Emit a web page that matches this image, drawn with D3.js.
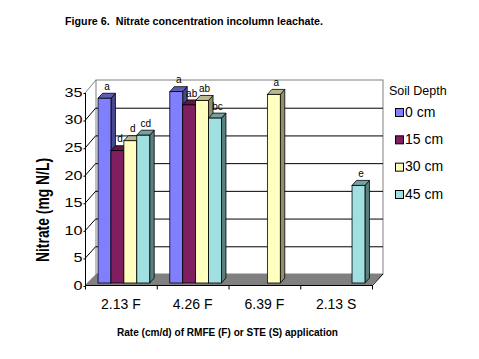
<!DOCTYPE html>
<html>
<head>
<meta charset="utf-8">
<script src="https://cdn.jsdelivr.net/npm/d3@7"></script>
<style>
  html, body { margin: 0; padding: 0; background: #fff; }
  svg { display: block; }
  text { font-family: "Liberation Sans", Arial, sans-serif; fill: #000; }
</style>
</head>
<body>
<svg id="chart" width="479" height="359"></svg>
<script>
// ---- data ----
const categories = ["2.13 F", "4.26 F", "6.39 F", "2.13 S"];
const depthNames = ["0 cm", "15 cm", "30 cm", "45 cm"];
const depth0  = [33.5, 34.7, null, null];
const depth15 = [24.0, 32.3, null, null];
const depth30 = [25.8, 33.1, 34.2, null];
const depth45 = [26.8, 29.9, null, 17.7];
const letters0  = ["a", "a", null, null];
const letters15 = ["d", "ab", null, null];
const letters30 = ["d", "ab", "a", null];
const letters45 = ["cd", "bc", null, "e"];
const yTicks = [0, 5, 10, 15, 20, 25, 30, 35];
const titleText = "Figure 6.  Nitrate concentration incolumn leachate.";
const xTitleText = "Rate (cm/d) of RMFE (F) or STE (S) application";
const yTitleText = "Nitrate (mg N/L)";
const legendTitle = "Soil Depth";

const seriesValues = [depth0, depth15, depth30, depth45];
const seriesLetters = [letters0, letters15, letters30, letters45];
const colors = ["#8080FF", "#801F5F", "#FFFFC0", "#A0E0E0"];

// ---- geometry ----
const svg = d3.select("#chart");
const frontLeft = 85, frontRight = 372;
const depthDx = 11, depthDy = -12;
const yFront = d3.scaleLinear().domain([0, 35]).range([286, 93]);
const yBack  = d3.scaleLinear().domain([0, 35]).range([274, 80]);
const yBar   = d3.scaleLinear().domain([0, 35]).range([283, 90]);
const barShift = 3;           // x shift of the bar plane
const barDx = 4.5, barDy = -5; // bar depth

const x0 = d3.scaleBand().domain(categories).range([frontLeft, frontRight])
  .paddingInner(0.28).paddingOuter(0.14);
const x1 = d3.scaleBand().domain(d3.range(depthNames.length)).range([0, x0.bandwidth()]);
const xEdge = d3.scaleBand().domain(categories).range([frontLeft, frontRight]);

// ---- back wall ----
const backL = frontLeft + depthDx, backR = frontRight + depthDx;
svg.append("rect")
  .attr("x", backL).attr("y", yBack(35))
  .attr("width", backR - backL).attr("height", yBack(0) - yBack(35))
  .attr("fill", "#fff").attr("stroke", "#808080").attr("stroke-width", 1);

// gridlines on back wall
svg.append("g").selectAll("line").data(yTicks.filter(t => t > 0 && t < 35)).join("line")
  .attr("x1", backL).attr("x2", backR)
  .attr("y1", d => yBack(d) + 0.5).attr("y2", d => yBack(d) + 0.5)
  .attr("stroke", "#000").attr("stroke-width", 1);

// slanted side lines
svg.append("g").selectAll("line").data(yTicks.filter(t => t > 0)).join("line")
  .attr("x1", frontLeft).attr("y1", d => yFront(d))
  .attr("x2", backL).attr("y2", d => yBack(d))
  .attr("stroke", d => d === 35 ? "#808080" : "#000").attr("stroke-width", 1);

// ---- floor ----
svg.append("polygon")
  .attr("points", [[frontLeft, yFront(0) - 1], [frontRight, yFront(0) - 1],
                   [backR, yBack(0)], [backL, yBack(0)]].map(p => p.join(",")).join(" "))
  .attr("fill", "#808080");
svg.append("line")
  .attr("x1", frontRight).attr("y1", yFront(0)).attr("x2", backR).attr("y2", yBack(0))
  .attr("stroke", "#000");

// ---- bars ----
const barsG = svg.append("g");
categories.forEach((cat, ci) => {
  seriesValues.forEach((vals, si) => {
    const v = vals[ci];
    if (v == null) return;
    const xl = x0(cat) + x1(si) + barShift;
    const w = x1.bandwidth();
    const yt = yBar(v), yb = yBar(0);
    const base = d3.color(colors[si]);
    const g = barsG.append("g");
    g.append("polygon") // side
      .attr("points", [[xl + w, yb], [xl + w + barDx, yb + barDy], [xl + w + barDx, yt + barDy], [xl + w, yt]].map(p => p.join(",")).join(" "))
      .attr("fill", base.darker(1.6)).attr("stroke", "#000").attr("stroke-width", 0.8);
    g.append("polygon") // top
      .attr("points", [[xl, yt], [xl + barDx, yt + barDy], [xl + w + barDx, yt + barDy], [xl + w, yt]].map(p => p.join(",")).join(" "))
      .attr("fill", base.darker(0.9)).attr("stroke", "#000").attr("stroke-width", 0.8);
    g.append("rect") // front
      .attr("x", xl).attr("y", yt).attr("width", w).attr("height", yb - yt)
      .attr("fill", colors[si]).attr("stroke", "#000").attr("stroke-width", 0.8);
    const lab = seriesLetters[si][ci];
    if (lab) {
      g.append("text")
        .attr("x", xl + w / 2 + 2.5).attr("y", yt + barDy - 3.3)
        .attr("text-anchor", "middle").attr("font-size", 10)
        .text(lab);
    }
  });
});

// ---- axes ----
const yAxis = d3.axisLeft(yFront).tickValues(yTicks).tickSize(2).tickPadding(1).tickFormat(d3.format("d"));
const yG = svg.append("g").attr("transform", `translate(${frontLeft + 0.5},0)`).call(yAxis);
yG.select(".domain").attr("stroke", "#000").attr("d", `M0,${yFront(35)}V${yFront(0) + 2}`);
yG.selectAll(".tick line").attr("stroke", "#000");
yG.selectAll(".tick text").attr("font-size", 13.5).attr("font-family", '"Liberation Sans", Arial, sans-serif')
  .attr("dy", "0.25em")
  .attr("textLength", d => String(d).length * 9)
  .attr("lengthAdjust", "spacingAndGlyphs");

const xAxis = d3.axisBottom(x0).tickSize(0).tickPadding(14);
const xG = svg.append("g").attr("transform", `translate(0,${yFront(0) - 0.5})`).call(xAxis);
xG.select(".domain").attr("stroke", "#000").attr("d", `M${frontLeft},0H${frontRight}`);
xG.selectAll(".tick text").attr("font-size", 14).attr("font-family", '"Liberation Sans", Arial, sans-serif');
// boundary tick marks
const bounds = categories.map(c => xEdge(c)).concat([frontRight]);
xG.append("g").selectAll("line").data(bounds).join("line")
  .attr("x1", d => d + 0.5).attr("x2", d => d + 0.5).attr("y1", 0).attr("y2", 4)
  .attr("stroke", "#000");

// ---- titles ----
svg.append("text").attr("x", 65).attr("y", 24.5)
  .attr("font-size", 10).attr("font-weight", "bold")
  .attr("textLength", 258).attr("lengthAdjust", "spacingAndGlyphs")
  .style("white-space", "pre")
  .text(titleText);

svg.append("text").attr("x", 117).attr("y", 336)
  .attr("font-size", 10).attr("font-weight", "bold")
  .attr("textLength", 221).attr("lengthAdjust", "spacingAndGlyphs")
  .text(xTitleText);

svg.append("text")
  .attr("transform", "translate(49,210) rotate(-90) scale(1,1.3)")
  .attr("text-anchor", "middle").attr("font-size", 14).attr("font-weight", "bold")
  .attr("textLength", 104).attr("lengthAdjust", "spacingAndGlyphs")
  .text(yTitleText);

// ---- legend ----
const leg = svg.append("g");
leg.append("text").attr("x", 389).attr("y", 94.5).attr("font-size", 12.5).text(legendTitle);
const legY = d3.scaleLinear().domain([0, 3]).range([108.5, 190.5]);
depthNames.forEach((name, i) => {
  leg.append("rect").attr("x", 395.5).attr("y", legY(i)).attr("width", 8).attr("height", 8)
    .attr("fill", colors[i]).attr("stroke", "#000").attr("stroke-width", 1);
  leg.append("text").attr("x", 405).attr("y", legY(i) + 8).attr("font-size", 14).text(name);
});
</script>
</body>
</html>
